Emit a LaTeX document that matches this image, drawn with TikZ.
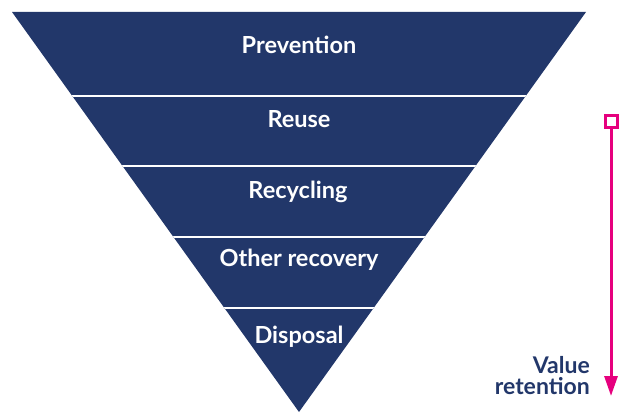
\documentclass[tikz,border=0pt]{standalone}
\usepackage{fontspec}
\setmainfont{Lato}
\usetikzlibrary{arrows.meta}
\definecolor{navy}{HTML}{22376A}
\definecolor{mag}{HTML}{E6007E}
\tikzset{
  lbl/.style={text=white, font=\fontsize{23.5}{25}\selectfont\bfseries, anchor=base, inner sep=0pt},
  vlbl/.style={text=navy, font=\fontsize{23}{25}\selectfont\bfseries, anchor=base east, inner sep=0pt},
  sep/.style={white, line width=2pt},
}
\begin{document}
\begin{tikzpicture}[x=1pt,y=1pt]
\useasboundingbox (0,0) rectangle (628,-414);
\coordinate (tl) at (12,-12);
\coordinate (tr) at (586,-12);
\coordinate (ap) at (299,-412);
\fill[navy] (tl) -- (tr) -- (ap) -- cycle;
\begin{scope}
\clip (tl) -- (tr) -- (ap) -- cycle;
\foreach \y in {96,166,237,308} \draw[sep] (0,-\y) -- (628,-\y);
\end{scope}
\node[lbl] (prev) at (299,-54) {Prevention};
\node[lbl] (reuse) at (299,-128) {Reuse};
\node[lbl] (recy) at (298,-198) {Recycling};
\node[lbl] (other) at (299,-266) {Other recovery};
\node[lbl] (disp) at (299,-343) {Disposal};
% value retention arrow
\draw[mag, line width=3pt] (605,-116) rectangle (617,-128);
\coordinate (as) at (611,-129.5);
\coordinate (ae) at (611,-396);
\draw[mag, line width=3pt, -{Triangle[width=13pt,length=20pt]}] (as) -- (ae);
\node[vlbl] (v1) at (590,-373.5) {Value};
\node[vlbl] (v2) at (590,-394) {retention};
\end{tikzpicture}
\end{document}
